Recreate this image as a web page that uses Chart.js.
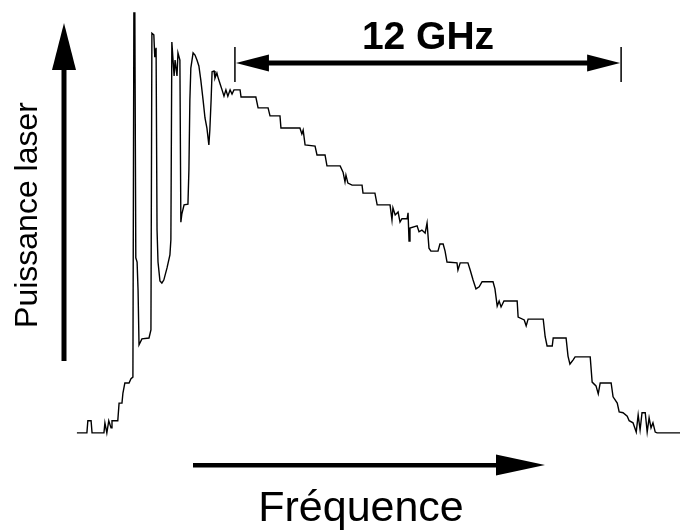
<!DOCTYPE html>
<html>
<head>
<meta charset="utf-8">
<script src="https://cdn.jsdelivr.net/npm/chart.js@4/dist/chart.umd.min.js"></script>
<style>
html,body{margin:0;padding:0;background:#fff;}
canvas{display:block;}
</style>
</head>
<body>
<canvas id="c" width="680" height="532"></canvas>
<script>
// Relative optical frequency (GHz) and normalised laser power (a.u.)
const freqGHz = [0,0.31,0.34,0.44,0.47,0.84,0.87,0.93,0.99,1.06,1.09,1.27,1.31,1.40,1.43,1.49,1.62,1.68,1.74,1.77,1.80,1.83,1.87,1.90,1.93,2.02,2.24,2.30,2.33,2.39,2.42,2.46,2.49,2.52,2.58,2.64,2.70,2.80,2.89,2.92,2.95,3.02,3.05,3.11,3.14,3.20,3.23,3.26,3.33,3.45,3.48,3.51,3.54,3.61,3.67,3.73,3.79,3.85,3.92,3.98,4.04,4.10,4.13,4.17,4.20,4.26,4.29,4.35,4.38,4.45,4.51,4.57,4.63,4.69,4.76,4.82,4.88,5.07,5.10,5.56,5.63,5.94,6.00,6.31,6.34,6.93,6.99,7.03,7.09,7.40,7.46,7.71,7.77,8.18,8.27,8.33,8.36,8.42,8.55,8.86,8.89,9.26,9.33,9.73,9.79,9.82,9.89,9.98,10.04,10.10,10.26,10.29,10.32,10.35,10.57,10.63,10.72,10.82,10.88,10.94,11.00,11.22,11.28,11.38,11.44,11.50,11.81,11.84,11.91,12.15,12.22,12.31,12.40,12.50,12.59,12.93,12.99,13.06,13.12,13.18,13.27,13.68,13.71,13.90,13.96,14.02,14.49,14.55,14.61,14.77,14.80,15.20,15.26,15.32,15.42,15.48,15.95,16.01,16.13,16.20,16.26,16.60,16.66,16.79,16.85,16.97,17.10,17.16,17.28,17.38,17.44,17.50,17.56,17.66,17.72,17.78,17.84,17.90,17.97,18.03,18.74];
const power = [0,0,0.029,0.029,0,0,0.024,0,0.029,0.012,0.029,0.029,0.071,0.071,0.095,0.119,0.119,0.129,0.133,1.000,1.000,0.417,0.407,0.340,0.210,0.224,0.226,0.245,0.952,0.948,0.895,0.917,0.483,0.407,0.362,0.357,0.364,0.393,0.424,0.460,0.931,0.850,0.888,0.850,0.905,0.888,0.502,0.521,0.543,0.545,0.626,0.793,0.869,0.905,0.900,0.888,0.874,0.840,0.793,0.750,0.726,0.686,0.721,0.793,0.860,0.862,0.845,0.857,0.848,0.831,0.817,0.802,0.817,0.802,0.817,0.807,0.817,0.817,0.800,0.800,0.774,0.774,0.755,0.755,0.726,0.726,0.712,0.721,0.686,0.683,0.662,0.662,0.636,0.636,0.621,0.598,0.614,0.595,0.590,0.590,0.571,0.571,0.543,0.543,0.507,0.536,0.519,0.526,0.502,0.510,0.510,0.524,0.457,0.488,0.493,0.479,0.483,0.476,0.500,0.440,0.433,0.433,0.450,0.450,0.433,0.407,0.405,0.388,0.405,0.405,0.388,0.364,0.343,0.348,0.360,0.360,0.343,0.302,0.314,0.300,0.314,0.314,0.276,0.269,0.255,0.271,0.271,0.229,0.207,0.207,0.226,0.226,0.183,0.164,0.174,0.181,0.181,0.121,0.112,0.093,0.119,0.119,0.086,0.071,0.050,0.048,0.040,0.029,0.024,0.002,0.043,0.007,0.048,0.048,0.002,0.036,0.012,0.024,0.002,0,0];

// Span annotation (GHz)
const spanStart = 4.91;
const spanWidth = 12;
const spanLabel = "12 GHz";
const yLabel = "Puissance laser";
const xLabel = "Fréquence";

const points = freqGHz.map((f, i) => ({x: f, y: power[i]}));

function arrowHead(ctx, tipX, tipY, baseX, baseY, half) {
  const dx = tipX - baseX, dy = tipY - baseY;
  const len = Math.hypot(dx, dy);
  const nx = -dy / len, ny = dx / len;
  ctx.beginPath();
  ctx.moveTo(tipX, tipY);
  ctx.lineTo(baseX + nx * half, baseY + ny * half);
  ctx.lineTo(baseX - nx * half, baseY - ny * half);
  ctx.closePath();
  ctx.fill();
}

const annot = {
  id: 'annot',
  afterDraw(chart) {
    const ctx = chart.ctx;
    const xs = chart.scales.x;
    ctx.save();
    ctx.fillStyle = '#000';
    ctx.strokeStyle = '#000';

    // vertical power arrow
    ctx.fillRect(61.5, 68, 5, 293);
    arrowHead(ctx, 64, 23, 64, 70, 12);

    // 12 GHz span arrow
    const xa = xs.getPixelForValue(spanStart);
    const xb = xs.getPixelForValue(spanStart + spanWidth);
    const ya = 63;
    ctx.lineWidth = 1.5;
    ctx.beginPath();
    ctx.moveTo(xa, 47); ctx.lineTo(xa, 82);
    ctx.moveTo(xb, 47); ctx.lineTo(xb, 82);
    ctx.stroke();
    ctx.fillRect(xa + 30, ya - 2.5, (xb - xa) - 62, 5);
    arrowHead(ctx, xa + 1, ya, xa + 34, ya, 8.5);
    arrowHead(ctx, xb - 1, ya, xb - 34, ya, 8.5);

    // frequency arrow
    ctx.fillRect(193, 463, 306, 4.5);
    arrowHead(ctx, 545, 465, 496, 465, 10.5);

    // texts
    ctx.textAlign = 'center';
    ctx.textBaseline = 'alphabetic';
    ctx.font = 'bold 39px "Liberation Sans", Arial, sans-serif';
    ctx.fillText(spanLabel, (xa + xb) / 2, 49);

    ctx.font = '43px "Liberation Sans", Arial, sans-serif';
    ctx.fillText(xLabel, 361, 521);

    ctx.save();
    ctx.translate(37, 215);
    ctx.rotate(-Math.PI / 2);
    ctx.font = '32px "Liberation Sans", Arial, sans-serif';
    ctx.fillText(yLabel, 0, 0);
    ctx.restore();

    ctx.restore();
  }
};

new Chart(document.getElementById('c'), {
  type: 'line',
  data: {
    datasets: [{
      data: points,
      borderColor: '#000',
      borderWidth: 1.4,
      pointRadius: 0,
      fill: false,
      tension: 0
    }]
  },
  options: {
    responsive: false,
    animation: false,
    events: [],
    layout: {padding: 0},
    plugins: {legend: {display: false}, tooltip: {enabled: false}},
    scales: {
      x: {type: 'linear', display: false, min: -2.39, max: 18.74},
      y: {type: 'linear', display: false, min: -0.236, max: 1.031}
    }
  },
  plugins: [annot]
});
</script>
</body>
</html>
